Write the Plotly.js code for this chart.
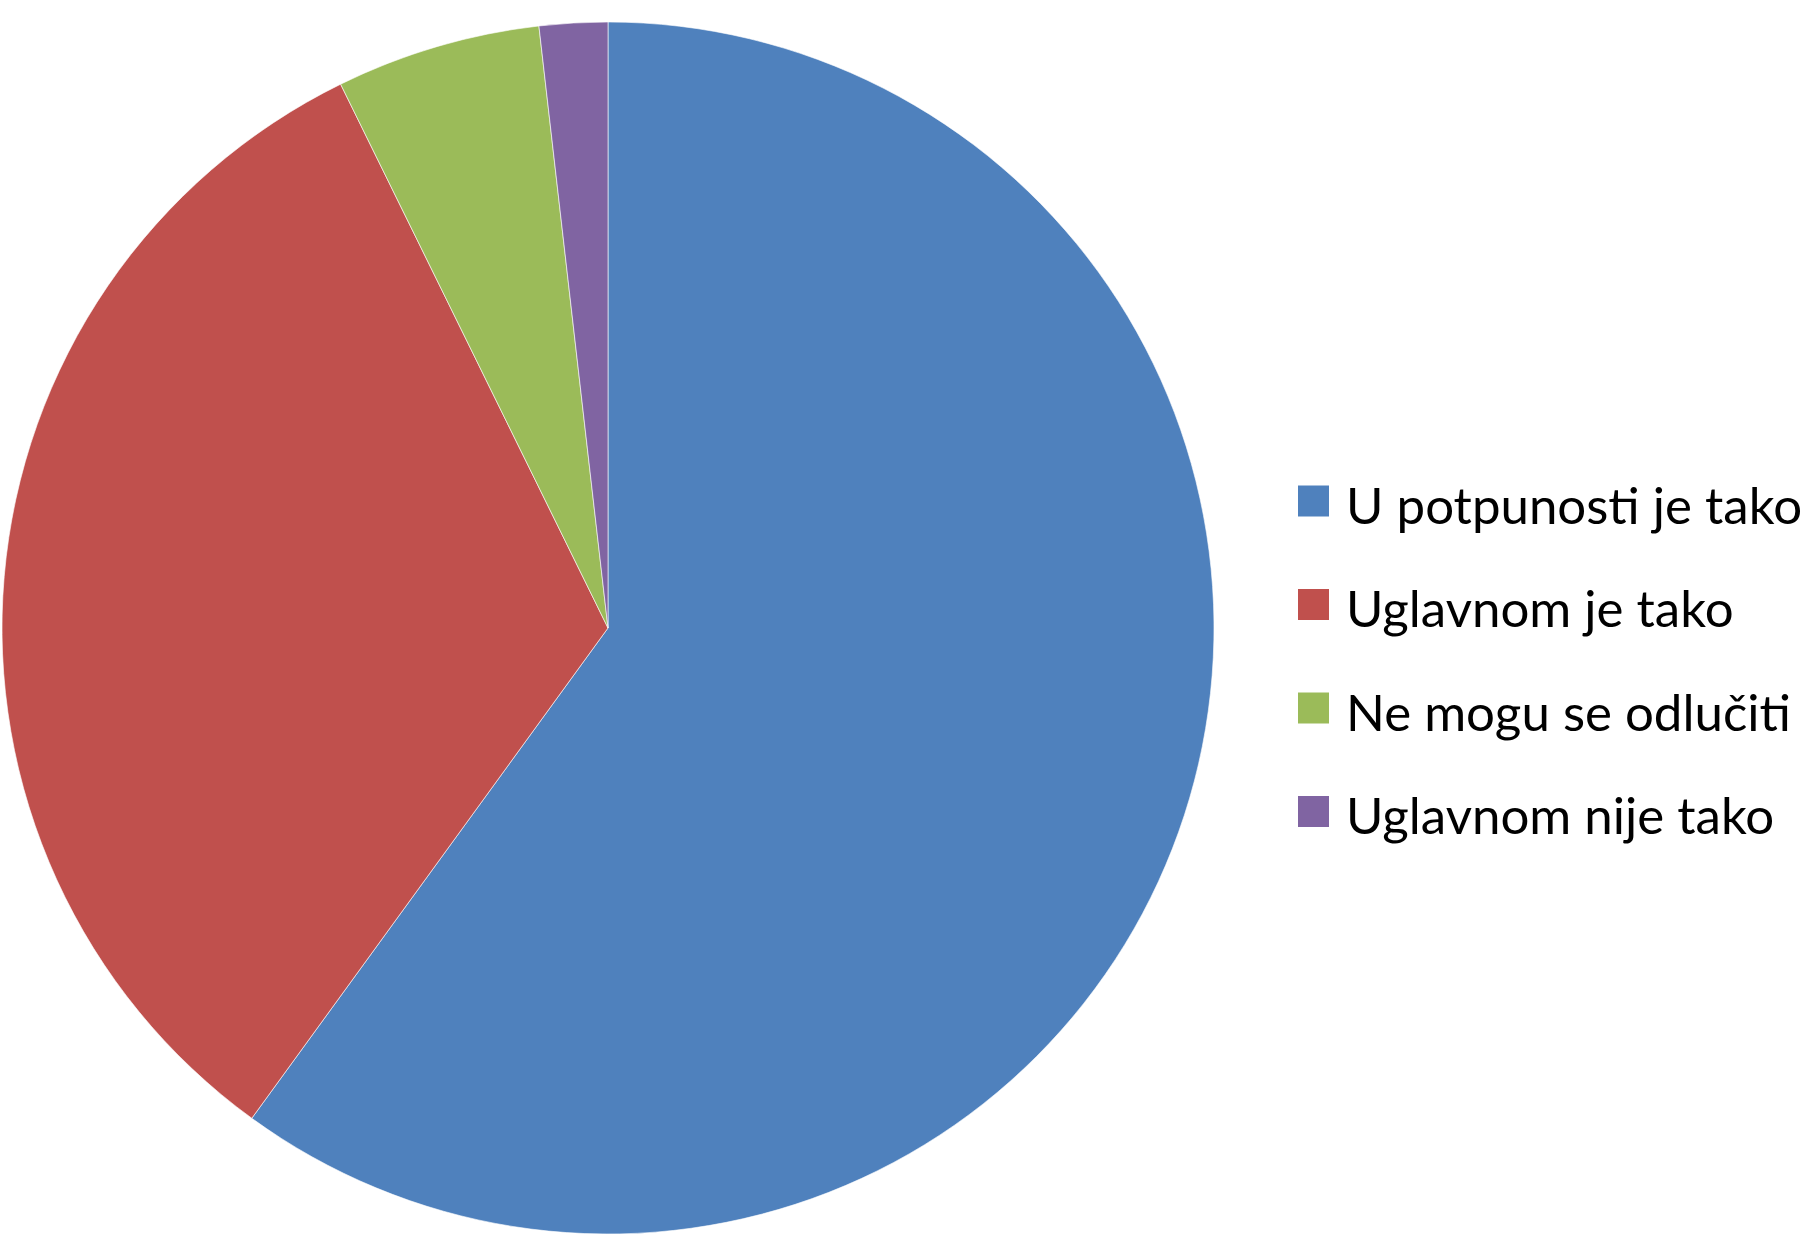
<!DOCTYPE html>
<html>
<head>
<meta charset="utf-8">
<script src="https://cdn.plot.ly/plotly-3.0.1.min.js"></script>
<style>
  html, body { margin: 0; padding: 0; background: #fff; }
  #chart { width: 1814px; height: 1248px; }
</style>
</head>
<body>
<div id="chart"></div>
<script>
var labels = ["U potpunosti je tako", "Uglavnom je tako", "Ne mogu se odlučiti", "Uglavnom nije tako"];
var values = [33, 18, 3, 1];
var colors = ["#4F81BD", "#C0504D", "#9BBB59", "#8064A2"];

var W = 1814, H = 1248;
var legendX = 1298, legendTop = 501, legendStep = 103.5, box = 31;

var trace = {
  type: "pie",
  labels: labels,
  values: values,
  sort: false,
  direction: "clockwise",
  rotation: 0,
  textinfo: "none",
  hoverinfo: "label+value+percent",
  marker: { colors: colors, line: { color: "#ffffff", width: 0.6 } },
  domain: { x: [2 / W, 1214 / W], y: [14 / H, 1226 / H] },
  showlegend: false
};

var shapes = [];
var annotations = [];
labels.forEach(function (lab, i) {
  var cy = legendTop + i * legendStep;
  shapes.push({
    type: "rect", xref: "paper", yref: "paper",
    x0: legendX / W, x1: (legendX + box) / W,
    y0: 1 - (cy - box / 2) / H, y1: 1 - (cy + box / 2) / H,
    fillcolor: colors[i], line: { width: 0 }
  });
  annotations.push({
    xref: "paper", yref: "paper",
    x: 1344 / W, y: 1 - (cy + 3) / H,
    xanchor: "left", yanchor: "middle",
    text: lab, showarrow: false,
    font: { family: "Lato, 'Open Sans', sans-serif", size: 51, color: "#000" }
  });
});

var layout = {
  width: W,
  height: H,
  margin: { l: 0, r: 0, t: 0, b: 0 },
  paper_bgcolor: "#fff",
  showlegend: false,
  shapes: shapes,
  annotations: annotations
};

Plotly.newPlot("chart", [trace], layout, { displayModeBar: false, staticPlot: true });
</script>
</body>
</html>
